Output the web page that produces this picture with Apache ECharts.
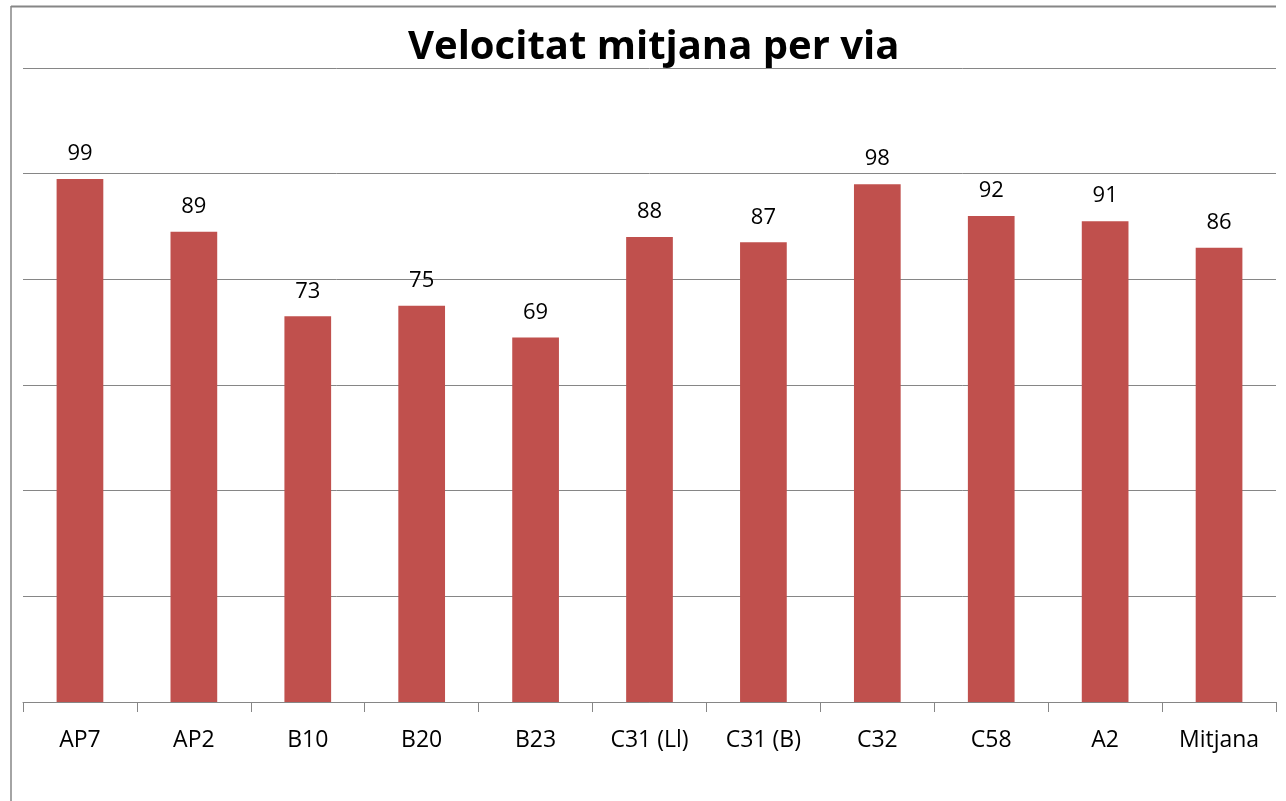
<!DOCTYPE html>
<html>
<head>
<meta charset="utf-8">
<script src="https://cdn.jsdelivr.net/npm/echarts@6/dist/echarts.min.js"></script>
<style>html,body{margin:0;padding:0;background:#fff}#c{width:1286px;height:801px}</style>
</head>
<body>
<div id="c"></div>
<script>
const titleText = 'Velocitat mitjana per via';
const categories = ['AP7', 'AP2', 'B10', 'B20', 'B23', 'C31 (Ll)', 'C31 (B)', 'C32', 'C58', 'A2', 'Mitjana'];
const speeds = [99, 89, 73, 75, 69, 88, 87, 98, 92, 91, 86];

const chart = echarts.init(document.getElementById('c'), null, {renderer: 'canvas'});
chart.setOption({
  animation: false,
  backgroundColor: '#fff',
  title: {
    text: titleText,
    left: 408,
    top: 28,
    padding: 0,
    textStyle: {fontFamily: 'Open Sans', fontWeight: 'bold', fontSize: 40, color: '#000'}
  },
  grid: {left: 23, right: 10, top: 68, bottom: 99, containLabel: false},
  xAxis: {
    type: 'category',
    data: categories,
    axisLine: {lineStyle: {color: '#868686', width: 1}},
    axisTick: {show: true, length: 10, lineStyle: {color: '#868686'}},
    axisLabel: {fontFamily: 'Open Sans', fontSize: 23, color: '#000', margin: 27, interval: 0}
  },
  yAxis: {
    type: 'value',
    min: 0, max: 120, interval: 20,
    axisLabel: {show: false},
    axisLine: {show: false},
    axisTick: {show: false},
    splitLine: {lineStyle: {color: '#868686', width: 1}}
  },
  series: [{
    type: 'bar',
    data: speeds,
    barWidth: '41%',
    itemStyle: {color: '#C0504D'},
    label: {show: true, position: 'top', distance: 14, fontFamily: 'Open Sans', fontSize: 22, color: '#000'}
  }],
  graphic: [
    {type: 'line', shape: {x1: 11, y1: 6.5, x2: 1276, y2: 6.5}, style: {stroke: '#868686', lineWidth: 2}},
    {type: 'line', shape: {x1: 11, y1: 6, x2: 11, y2: 801}, style: {stroke: '#868686', lineWidth: 1.5}}
  ]
});
</script>
</body>
</html>
